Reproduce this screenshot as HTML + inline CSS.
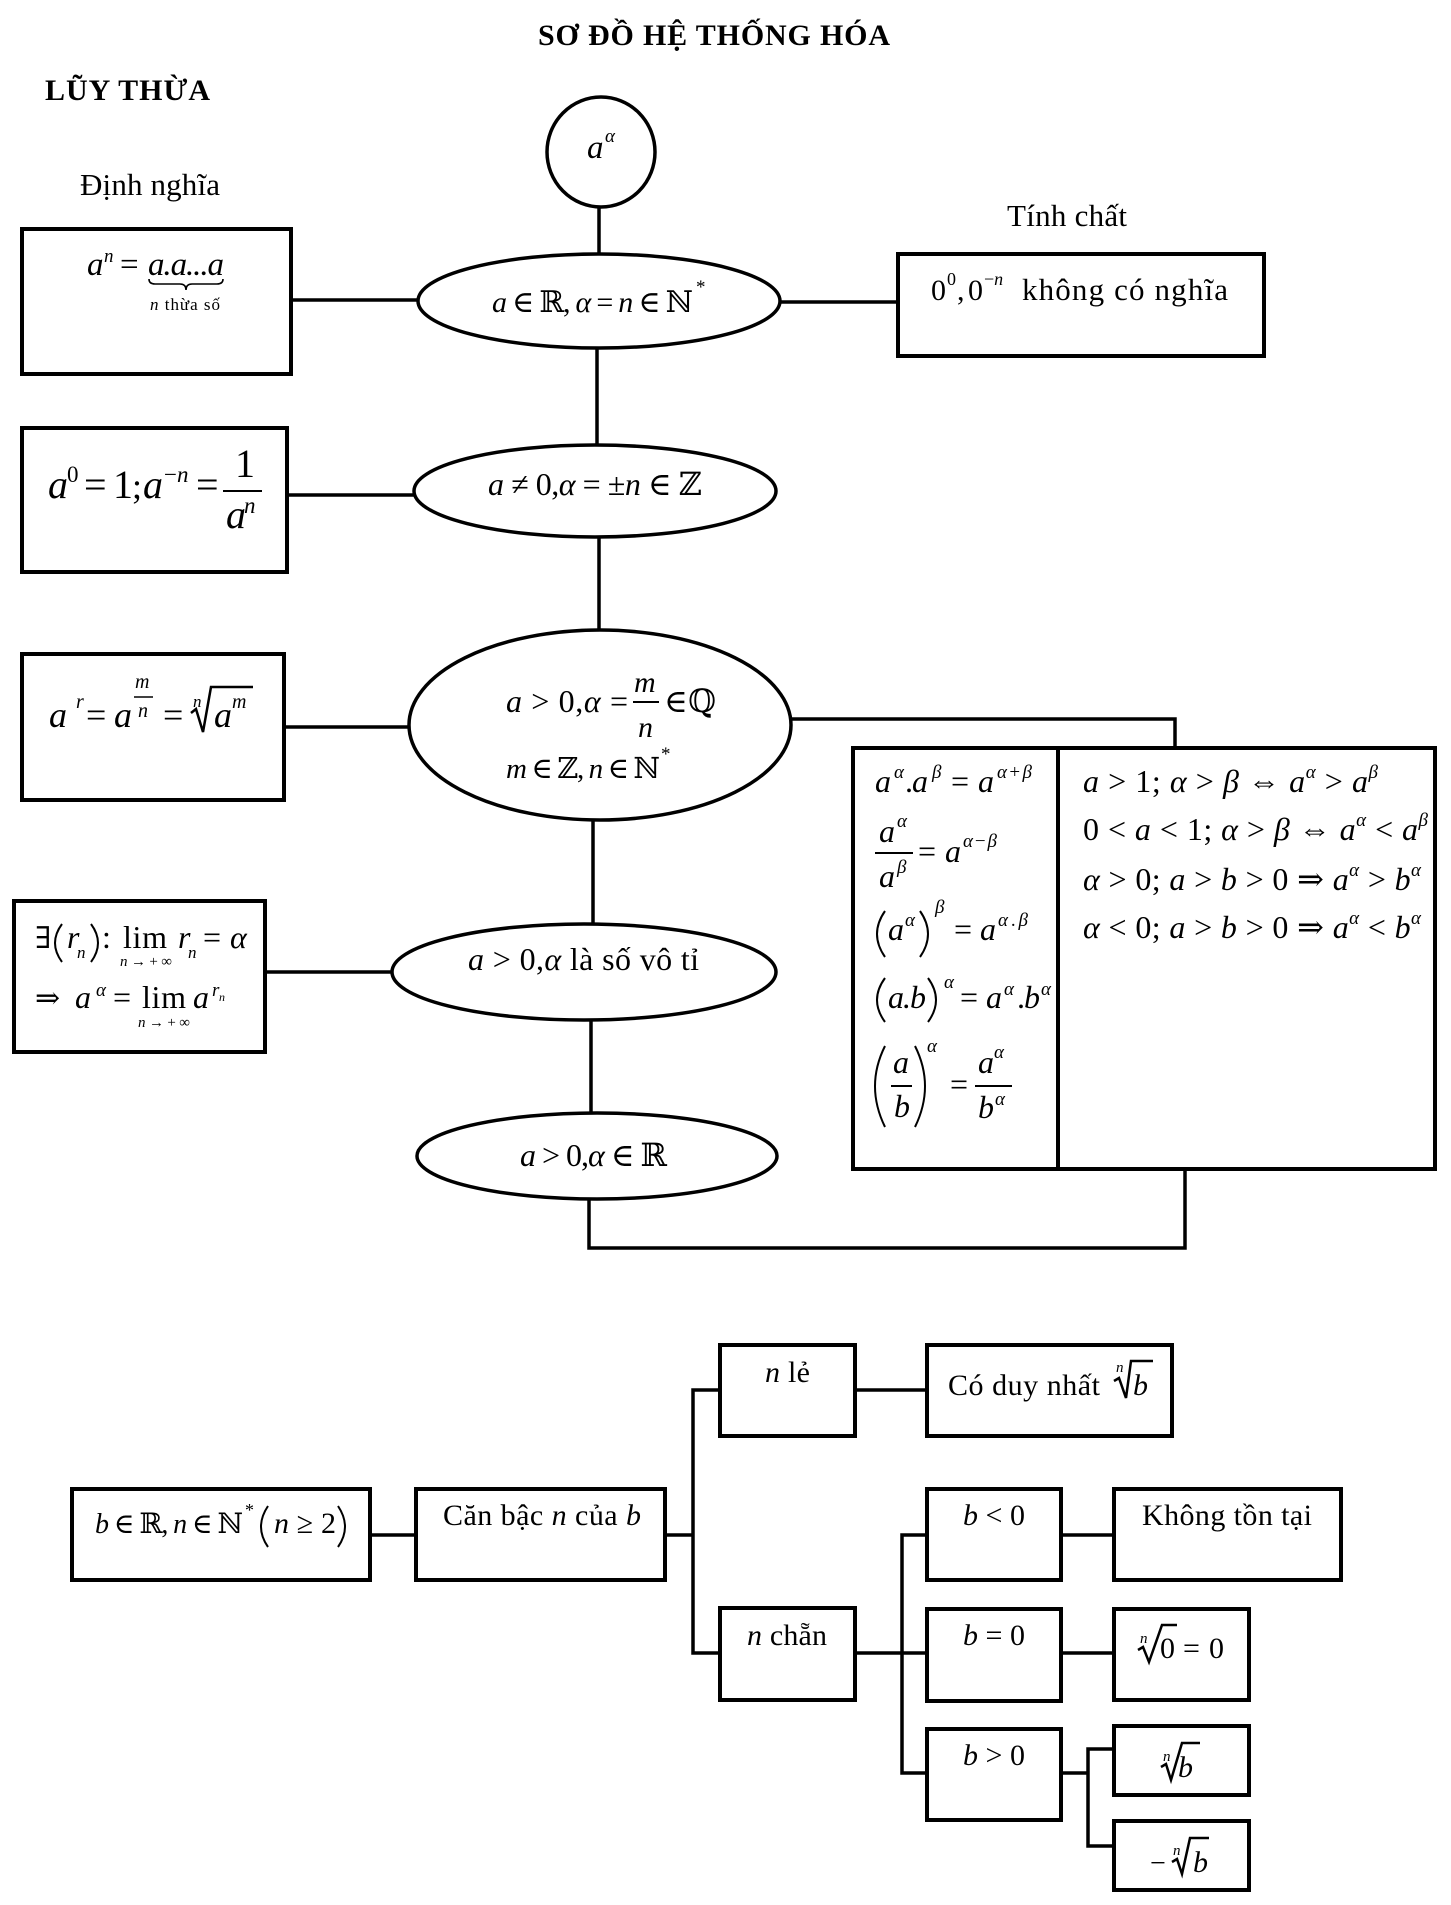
<!DOCTYPE html>
<html><head><meta charset="utf-8">
<style>
html,body{margin:0;padding:0;background:#fff;}
svg{display:block;}
text{font-family:"Liberation Serif","DejaVu Serif",serif;fill:#000;}
.i{font-style:italic;}
</style></head><body>
<svg width="1451" height="1905" viewBox="0 0 1451 1905" xmlns="http://www.w3.org/2000/svg">
<rect width="1451" height="1905" fill="#fff"/>

<!-- boxes -->
<g stroke="#000" stroke-width="4" fill="none">
<rect x="22" y="229" width="269" height="145"/>
<rect x="22" y="428" width="265" height="144"/>
<rect x="22" y="654" width="262" height="146"/>
<rect x="14" y="901" width="251" height="151"/>
<rect x="898" y="254" width="366" height="102"/>
<rect x="853" y="748" width="582" height="421"/>
<line x1="1058" y1="748" x2="1058" y2="1169"/>
<rect x="72" y="1489" width="298" height="91"/>
<rect x="416" y="1489" width="249" height="91"/>
<rect x="720" y="1345" width="135" height="91"/>
<rect x="927" y="1345" width="245" height="91"/>
<rect x="720" y="1608" width="135" height="92"/>
<rect x="927" y="1489" width="134" height="91"/>
<rect x="1114" y="1489" width="227" height="91"/>
<rect x="927" y="1609" width="134" height="92"/>
<rect x="1114" y="1609" width="135" height="91"/>
<rect x="927" y="1729" width="134" height="91"/>
<rect x="1114" y="1726" width="135" height="69"/>
<rect x="1114" y="1821" width="135" height="69"/>
</g>

<!-- ellipses -->
<g stroke="#000" stroke-width="3.5" fill="none">
<ellipse cx="601" cy="152" rx="54" ry="55"/>
<ellipse cx="599" cy="301" rx="181" ry="47"/>
<ellipse cx="595" cy="491" rx="181" ry="46"/>
<ellipse cx="600" cy="725" rx="191" ry="95"/>
<ellipse cx="584" cy="972" rx="192" ry="48"/>
<ellipse cx="597" cy="1156" rx="180" ry="43"/>
</g>

<!-- connectors -->
<g stroke="#000" stroke-width="3.5" fill="none">
<line x1="599" y1="207" x2="599" y2="254"/>
<line x1="597" y1="348" x2="597" y2="445"/>
<line x1="599" y1="537" x2="599" y2="630"/>
<line x1="593" y1="820" x2="593" y2="924"/>
<line x1="591" y1="1020" x2="591" y2="1113"/>
<polyline points="589,1199 589,1248 1185,1248 1185,1171"/>
<polyline points="790,719 1175,719 1175,746"/>
<line x1="293" y1="300" x2="418" y2="300"/>
<line x1="780" y1="302" x2="896" y2="302"/>
<line x1="289" y1="495" x2="414" y2="495"/>
<line x1="286" y1="727" x2="410" y2="727"/>
<line x1="267" y1="972" x2="393" y2="972"/>

<line x1="372" y1="1535" x2="414" y2="1535"/>
<line x1="667" y1="1535" x2="693" y2="1535"/>
<polyline points="718,1390 693,1390 693,1653 718,1653"/>
<line x1="857" y1="1390" x2="925" y2="1390"/>
<line x1="857" y1="1653" x2="925" y2="1653"/>
<polyline points="925,1535 902,1535 902,1773 925,1773"/>
<line x1="1063" y1="1535" x2="1112" y2="1535"/>
<line x1="1063" y1="1653" x2="1112" y2="1653"/>
<line x1="1063" y1="1773" x2="1088" y2="1773"/>
<polyline points="1112,1749 1088,1749 1088,1846 1112,1846"/>
</g>

<!-- headings -->
<text x="714" y="45" text-anchor="middle" font-weight="bold" font-size="30" textLength="352" lengthAdjust="spacing">SƠ ĐỒ HỆ THỐNG HÓA</text>
<text x="45" y="100" font-weight="bold" font-size="30" textLength="165" lengthAdjust="spacing">LŨY THỪA</text>
<text x="80" y="195" font-size="31" textLength="140" lengthAdjust="spacing">Định nghĩa</text>
<text x="1007" y="226" font-size="31" textLength="120" lengthAdjust="spacing">Tính chất</text>

<!-- circle -->
<text x="587" y="158" font-size="33" class="i">a</text>
<text x="605" y="142" font-size="19" class="i">α</text>

<!-- ellipse texts -->
<text x="492" y="312" font-size="30" textLength="201" lengthAdjust="spacing"><tspan class="i">a</tspan> ∈ ℝ, <tspan class="i">α</tspan> = <tspan class="i">n</tspan> ∈ ℕ</text>
<text x="696" y="293" font-size="19">*</text>

<text x="488" y="495" font-size="32" textLength="214" lengthAdjust="spacing"><tspan class="i">a</tspan> ≠ 0,<tspan class="i">α</tspan> = ±<tspan class="i">n</tspan> ∈ ℤ</text>

<text x="506" y="712" font-size="32" textLength="122" lengthAdjust="spacing"><tspan class="i">a</tspan> &gt; 0,<tspan class="i">α</tspan> =</text>
<text x="634" y="692" font-size="30" class="i">m</text>
<line x1="633" y1="702" x2="659" y2="702" stroke="#000" stroke-width="2"/>
<text x="638" y="737" font-size="30" class="i">n</text>
<text x="664" y="712" font-size="32" textLength="52" lengthAdjust="spacing">∈ ℚ</text>
<text x="506" y="778" font-size="29" textLength="154" lengthAdjust="spacing"><tspan class="i">m</tspan> ∈ ℤ, <tspan class="i">n</tspan> ∈ ℕ</text>
<text x="661" y="760" font-size="19">*</text>

<text x="468" y="970" font-size="32" textLength="231" lengthAdjust="spacing"><tspan class="i">a</tspan> &gt; 0,<tspan class="i">α</tspan> là số vô tỉ</text>

<text x="520" y="1166" font-size="32" textLength="147" lengthAdjust="spacing"><tspan class="i">a</tspan> &gt; 0,<tspan class="i">α</tspan> ∈ ℝ</text>

<!-- box1 -->
<text x="87" y="275" font-size="33" class="i">a</text>
<text x="104" y="262" font-size="19" class="i">n</text>
<text x="120" y="275" font-size="33">=</text>
<text x="148" y="275" font-size="33" class="i" textLength="76" lengthAdjust="spacing">a.a...a</text>
<path d="M149,279 q0,5 6,5 h25 q6,0 6,6 q0,-6 6,-6 h25 q6,0 6,-5" stroke="#000" stroke-width="1.6" fill="none"/>
<text x="150" y="310" font-size="17" textLength="70" lengthAdjust="spacing"><tspan class="i">n</tspan> thừa số</text>

<!-- box2 -->
<text x="48" y="498" font-size="40" class="i">a</text>
<text x="67" y="482" font-size="23">0</text>
<text x="84" y="498" font-size="40">=</text>
<text x="113" y="498" font-size="40">1</text>
<text x="132" y="498" font-size="36">;</text>
<text x="143" y="498" font-size="40" class="i">a</text>
<text x="164" y="482" font-size="23">−<tspan class="i">n</tspan></text>
<text x="196" y="498" font-size="40">=</text>
<text x="235" y="477" font-size="40">1</text>
<line x1="223" y1="491" x2="262" y2="491" stroke="#000" stroke-width="2"/>
<text x="226" y="528" font-size="40" class="i">a</text>
<text x="244" y="513" font-size="23" class="i">n</text>

<!-- box3 -->
<text x="49" y="727" font-size="36" class="i">a</text>
<text x="76" y="708" font-size="20" class="i">r</text>
<text x="86" y="727" font-size="36">=</text>
<text x="114" y="727" font-size="36" class="i">a</text>
<text x="135" y="688" font-size="20" class="i">m</text>
<line x1="134" y1="697" x2="153" y2="697" stroke="#000" stroke-width="1.5"/>
<text x="138" y="717" font-size="20" class="i">n</text>
<text x="163" y="727" font-size="36">=</text>
<text x="193" y="707" font-size="17" class="i">n</text>
<path d="M191,713 L196,709 L203,732 L211,687 L253,687" stroke="#000" stroke-width="2.5" fill="none"/>
<text x="214" y="727" font-size="36" class="i">a</text>
<text x="232" y="708" font-size="20" class="i">m</text>

<!-- box4 -->
<text x="35" y="948" font-size="30">∃</text>
<path d="M62,924 Q48,943 62,962" stroke="#000" stroke-width="2" fill="none"/>
<text x="67" y="948" font-size="32" class="i">r</text>
<text x="77" y="958" font-size="17" class="i">n</text>
<path d="M91,924 Q105,943 91,962" stroke="#000" stroke-width="2" fill="none"/>
<text x="102" y="948" font-size="32">:</text>
<text x="123" y="948" font-size="32" textLength="44" lengthAdjust="spacing">lim</text>
<text x="120" y="966" font-size="15" textLength="52" lengthAdjust="spacing"><tspan class="i">n</tspan>→+∞</text>
<text x="178" y="948" font-size="32" class="i">r</text>
<text x="188" y="958" font-size="17" class="i">n</text>
<text x="203" y="948" font-size="32">=</text>
<text x="230" y="948" font-size="32" class="i">α</text>

<text x="35" y="1008" font-size="30">⇒</text>
<text x="75" y="1008" font-size="32" class="i">a</text>
<text x="96" y="996" font-size="19" class="i">α</text>
<text x="113" y="1008" font-size="32">=</text>
<text x="142" y="1008" font-size="32" textLength="44" lengthAdjust="spacing">lim</text>
<text x="138" y="1027" font-size="15" textLength="52" lengthAdjust="spacing"><tspan class="i">n</tspan>→+∞</text>
<text x="193" y="1008" font-size="32" class="i">a</text>
<text x="212" y="996" font-size="19" class="i">r</text>
<text x="219" y="1001" font-size="12" class="i">n</text>

<!-- top right box -->
<text x="931" y="300" font-size="30">0</text>
<text x="947" y="285" font-size="18">0</text>
<text x="957" y="300" font-size="30">,</text>
<text x="968" y="300" font-size="30">0</text>
<text x="984" y="285" font-size="18">−<tspan class="i">n</tspan></text>
<text x="1022" y="300" font-size="31" textLength="206" lengthAdjust="spacing">không có nghĩa</text>

<!-- big box left column -->
<g font-size="32">
<text x="875" y="792" class="i">a</text>
<text x="894" y="778" font-size="19" class="i">α</text>
<text x="905" y="792">.</text>
<text x="912" y="792" class="i">a</text>
<text x="932" y="778" font-size="19" class="i">β</text>
<text x="951" y="792">=</text>
<text x="978" y="792" class="i">a</text>
<text x="997" y="778" font-size="19" textLength="35" lengthAdjust="spacing"><tspan class="i">α</tspan>+<tspan class="i">β</tspan></text>

<text x="879" y="842" class="i">a</text>
<text x="897" y="827" font-size="19" class="i">α</text>
<line x1="875" y1="853" x2="913" y2="853" stroke="#000" stroke-width="2"/>
<text x="879" y="887" class="i">a</text>
<text x="897" y="873" font-size="19" class="i">β</text>
<text x="918" y="862">=</text>
<text x="945" y="862" class="i">a</text>
<text x="963" y="847" font-size="19" textLength="34" lengthAdjust="spacing"><tspan class="i">α</tspan>−<tspan class="i">β</tspan></text>

<path d="M885,911 Q869,934 885,957" stroke="#000" stroke-width="2" fill="none"/>
<text x="888" y="940" class="i">a</text>
<text x="905" y="926" font-size="19" class="i">α</text>
<path d="M920,911 Q936,934 920,957" stroke="#000" stroke-width="2" fill="none"/>
<text x="935" y="913" font-size="19" class="i">β</text>
<text x="954" y="940">=</text>
<text x="980" y="940" class="i">a</text>
<text x="998" y="926" font-size="19" textLength="30" lengthAdjust="spacing"><tspan class="i">α</tspan>.<tspan class="i">β</tspan></text>

<path d="M885,978 Q869,1000 885,1022" stroke="#000" stroke-width="2" fill="none"/>
<text x="888" y="1008" class="i" textLength="38" lengthAdjust="spacing">a.b</text>
<path d="M928,978 Q944,1000 928,1022" stroke="#000" stroke-width="2" fill="none"/>
<text x="944" y="988" font-size="19" class="i">α</text>
<text x="960" y="1008">=</text>
<text x="986" y="1008" class="i">a</text>
<text x="1004" y="995" font-size="19" class="i">α</text>
<text x="1017" y="1008">.</text>
<text x="1024" y="1008" class="i">b</text>
<text x="1041" y="995" font-size="19" class="i">α</text>

<path d="M885,1046 Q865,1086 885,1127" stroke="#000" stroke-width="2" fill="none"/>
<text x="893" y="1073" class="i">a</text>
<line x1="891" y1="1086" x2="912" y2="1086" stroke="#000" stroke-width="2"/>
<text x="894" y="1117" class="i">b</text>
<path d="M915,1046 Q935,1086 915,1127" stroke="#000" stroke-width="2" fill="none"/>
<text x="927" y="1052" font-size="19" class="i">α</text>
<text x="950" y="1095">=</text>
<text x="978" y="1073" class="i">a</text>
<text x="994" y="1058" font-size="19" class="i">α</text>
<line x1="975" y1="1086" x2="1012" y2="1086" stroke="#000" stroke-width="2"/>
<text x="978" y="1118" class="i">b</text>
<text x="995" y="1105" font-size="19" class="i">α</text>
</g>

<!-- big box right column -->
<text x="1083" y="792" font-size="32" textLength="295" lengthAdjust="spacing"><tspan class="i">a</tspan> &gt; 1; <tspan class="i">α</tspan> &gt; <tspan class="i">β</tspan> ⇔ <tspan class="i">a</tspan><tspan font-size="19" dy="-14" class="i">α</tspan><tspan dy="14"> &gt; </tspan><tspan class="i">a</tspan><tspan font-size="19" dy="-14" class="i">β</tspan></text>
<text x="1083" y="840" font-size="32" textLength="345" lengthAdjust="spacing">0 &lt; <tspan class="i">a</tspan> &lt; 1; <tspan class="i">α</tspan> &gt; <tspan class="i">β</tspan> ⇔ <tspan class="i">a</tspan><tspan font-size="19" dy="-14" class="i">α</tspan><tspan dy="14"> &lt; </tspan><tspan class="i">a</tspan><tspan font-size="19" dy="-14" class="i">β</tspan></text>
<text x="1083" y="890" font-size="32" textLength="338" lengthAdjust="spacing"><tspan class="i">α</tspan> &gt; 0; <tspan class="i">a</tspan> &gt; <tspan class="i">b</tspan> &gt; 0 ⇒ <tspan class="i">a</tspan><tspan font-size="19" dy="-14" class="i">α</tspan><tspan dy="14"> &gt; </tspan><tspan class="i">b</tspan><tspan font-size="19" dy="-14" class="i">α</tspan></text>
<text x="1083" y="938" font-size="32" textLength="338" lengthAdjust="spacing"><tspan class="i">α</tspan> &lt; 0; <tspan class="i">a</tspan> &gt; <tspan class="i">b</tspan> &gt; 0 ⇒ <tspan class="i">a</tspan><tspan font-size="19" dy="-14" class="i">α</tspan><tspan dy="14"> &lt; </tspan><tspan class="i">b</tspan><tspan font-size="19" dy="-14" class="i">α</tspan></text>

<!-- bottom section -->
<text x="95" y="1533" font-size="28" textLength="148" lengthAdjust="spacing"><tspan class="i">b</tspan> ∈ ℝ, <tspan class="i">n</tspan> ∈ ℕ</text>
<text x="245" y="1516" font-size="18">*</text>
<path d="M268,1506 Q254,1527 268,1547" stroke="#000" stroke-width="2" fill="none"/>
<text x="274" y="1533" font-size="30" textLength="62" lengthAdjust="spacing"><tspan class="i">n</tspan> ≥ 2</text>
<path d="M338,1506 Q352,1527 338,1547" stroke="#000" stroke-width="2" fill="none"/>

<text x="443" y="1525" font-size="30" textLength="198" lengthAdjust="spacing">Căn bậc <tspan class="i">n</tspan> của <tspan class="i">b</tspan></text>

<text x="765" y="1382" font-size="30" textLength="45" lengthAdjust="spacing"><tspan class="i">n</tspan> lẻ</text>
<text x="948" y="1395" font-size="30" textLength="152" lengthAdjust="spacing">Có duy nhất</text>
<text x="1116" y="1372" font-size="15" class="i">n</text>
<path d="M1114,1381 L1119,1378 L1126,1398 L1131,1361 L1153,1361" stroke="#000" stroke-width="2.5" fill="none"/>
<text x="1133" y="1395" font-size="30" class="i">b</text>

<text x="747" y="1645" font-size="30" textLength="80" lengthAdjust="spacing"><tspan class="i">n</tspan> chẵn</text>

<text x="963" y="1525" font-size="30" textLength="62" lengthAdjust="spacing"><tspan class="i">b</tspan> &lt; 0</text>
<text x="963" y="1645" font-size="30" textLength="62" lengthAdjust="spacing"><tspan class="i">b</tspan> = 0</text>
<text x="963" y="1765" font-size="30" textLength="62" lengthAdjust="spacing"><tspan class="i">b</tspan> &gt; 0</text>

<text x="1142" y="1525" font-size="30" textLength="170" lengthAdjust="spacing">Không tồn tại</text>

<text x="1140" y="1643" font-size="15" class="i">n</text>
<path d="M1138,1650 L1143,1647 L1149,1662 L1162,1625 L1177,1625" stroke="#000" stroke-width="2.5" fill="none"/>
<text x="1160" y="1658" font-size="30">0</text>
<text x="1183" y="1658" font-size="30" textLength="41" lengthAdjust="spacing">= 0</text>

<text x="1163" y="1761" font-size="15" class="i">n</text>
<path d="M1161,1767 L1166,1764 L1171,1780 L1182,1743 L1200,1743" stroke="#000" stroke-width="2.5" fill="none"/>
<text x="1178" y="1777" font-size="30" class="i">b</text>

<text x="1150" y="1872" font-size="28">−</text>
<text x="1173" y="1855" font-size="15" class="i">n</text>
<path d="M1172,1862 L1177,1859 L1182,1874 L1190,1838 L1209,1838" stroke="#000" stroke-width="2.5" fill="none"/>
<text x="1193" y="1872" font-size="30" class="i">b</text>

</svg>
</body></html>
